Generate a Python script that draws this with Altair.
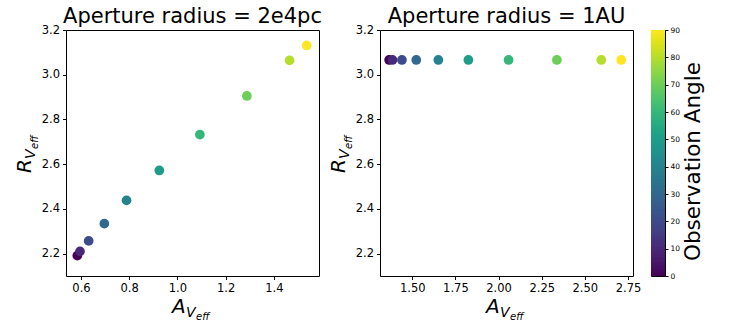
import altair as alt
import pandas as pd

FONT = "DejaVu Sans"

# Observation angle of each point (colour)
angles = [0, 10, 20, 30, 40, 50, 60, 70, 80, 90]

# Panel 1: aperture radius = 2e4pc
av_2e4pc = [0.585, 0.596, 0.632, 0.697, 0.789, 0.925, 1.093, 1.288, 1.465, 1.536]
rv_2e4pc = [2.191, 2.210, 2.257, 2.334, 2.438, 2.572, 2.732, 2.905, 3.064, 3.131]

# Panel 2: aperture radius = 1AU
av_1au = [1.366, 1.385, 1.440, 1.523, 1.651, 1.825, 2.058, 2.338, 2.595, 2.711]
rv_1au = [3.066, 3.066, 3.066, 3.066, 3.066, 3.066, 3.066, 3.066, 3.066, 3.066]

# Tick labels
y_ticks = [2.2, 2.4, 2.6, 2.8, 3.0, 3.2]
x_ticks_1 = [0.6, 0.8, 1.0, 1.2, 1.4]
x_ticks_2 = [1.50, 1.75, 2.00, 2.25, 2.50, 2.75]
cbar_ticks = [0, 10, 20, 30, 40, 50, 60, 70, 80, 90]

titles = ["Aperture radius = 2e4pc", "Aperture radius = 1AU"]
cbar_title = "Observation Angle"

color_scale = alt.Scale(scheme="viridis", domain=[0, 90])


def label(text, x, y, size, angle=0):
    return alt.Chart(pd.DataFrame({"t": [text]})).mark_text(
        font=FONT, fontSize=size, fontStyle="italic", align="left",
        baseline="alphabetic", angle=angle, color="black"
    ).encode(text="t:N", x=alt.value(x), y=alt.value(y))


def panel(av, rv, title, xdom, xticks, xfmt):
    df = pd.DataFrame({"A": av, "R": rv, "angle": angles})
    pts = alt.Chart(df).mark_circle(size=95, opacity=1).encode(
        x=alt.X("A:Q", scale=alt.Scale(domain=xdom, nice=False, zero=False),
                axis=alt.Axis(values=xticks, format=xfmt, title=None)),
        y=alt.Y("R:Q", scale=alt.Scale(domain=[2.1, 3.2], nice=False, zero=False),
                axis=alt.Axis(values=y_ticks, format=".1f", title=None)),
        color=alt.Color("angle:Q", scale=color_scale, legend=None),
    )
    layers = [
        pts,
        label("A", 106, 283, 20), label("V", 120, 287, 14), label("eff", 130, 290, 10),
        label("R", -35, 143, 20, 270), label("V", -31, 129, 14, 270), label("eff", -28, 119, 10, 270),
    ]
    return alt.layer(*layers).properties(
        width=253, height=246,
        title=alt.TitleParams(title, fontSize=21, font=FONT, fontWeight="normal",
                              color="black", offset=-3),
    )


left = panel(av_2e4pc, rv_2e4pc, titles[0], [0.538, 1.587], x_ticks_1, ".1f")
right = panel(av_1au, rv_1au, titles[1], [1.313, 2.779], x_ticks_2, ".2f")

# colour bar built from the same viridis scale
lo = [i * 0.5 for i in range(180)]
cbar_df = pd.DataFrame({"lo": lo, "hi": [min(v + 0.8, 90) for v in lo], "mid": [v + 0.25 for v in lo]})
cbar = alt.Chart(cbar_df).mark_rect(strokeWidth=0).encode(
    y=alt.Y("lo:Q", scale=alt.Scale(domain=[0, 90], nice=False, zero=False),
            axis=alt.Axis(orient="right", values=cbar_ticks, format="d", labelFontSize=7.5,
                          labelPadding=2, tickSize=3, title=cbar_title, titleFontSize=21.5,
                          titleFont=FONT, titleFontWeight="normal", titleAngle=270,
                          titleBaseline="top", titleAlign="center", titleY=131,
                          titlePadding=3, domain=False)),
    y2="hi:Q",
    color=alt.Color("mid:Q", scale=color_scale, legend=None),
).properties(width=14, height=246)

inner = alt.hconcat(left, right, spacing=5)
chart = alt.hconcat(inner, cbar, spacing=8).properties(
    padding={"left": 14, "top": 5, "right": 0, "bottom": 0},
    background="white",
).configure_view(
    stroke="black", strokeWidth=1
).configure_axis(
    domain=False, tickColor="black", tickSize=3.5, tickWidth=1,
    labelFont=FONT, labelFontSize=11.5, labelColor="black", labelPadding=3,
    grid=False,
)

chart.save("out.html", embed_options={"renderer": "svg", "actions": False})
